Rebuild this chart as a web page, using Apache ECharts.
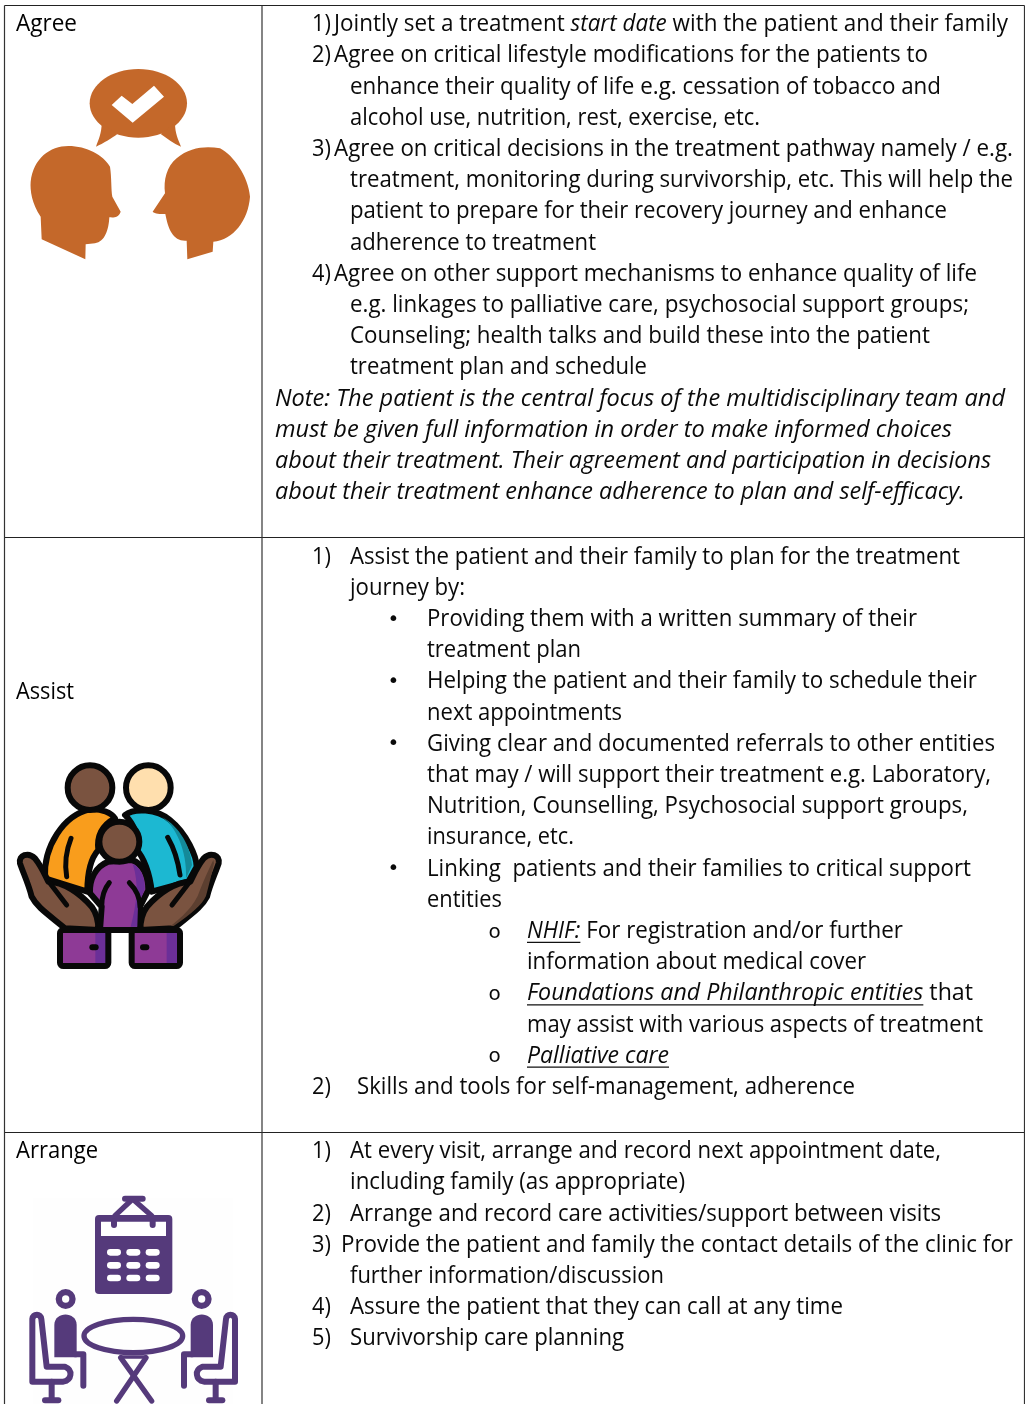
<!DOCTYPE html>
<html><head><meta charset="utf-8">
<script src="https://cdn.jsdelivr.net/npm/echarts@6/dist/echarts.min.js"></script>
<style>html,body{margin:0;padding:0;background:#fff;overflow:hidden}#c{width:1025px;height:1404px}</style>
</head><body><div id="c"></div>
<script>
// ---- table text. *x* = italic, _x_ = italic underlined
const rowLabels = ['Agree','Assist','Arrange'];
const agreeMarkers = ['1)','2)','','','3)','','','','4)','','','','','','',''];
const agreeText = [
 'Jointly set a treatment *start date* with the patient and their family',
 'Agree on critical lifestyle modifications for the patients to',
 'enhance their quality of life e.g. cessation of tobacco and',
 'alcohol use, nutrition, rest, exercise, etc.',
 'Agree on critical decisions in the treatment pathway namely / e.g.',
 'treatment, monitoring during survivorship, etc. This will help the',
 'patient to prepare for their recovery journey and enhance',
 'adherence to treatment',
 'Agree on other support mechanisms to enhance quality of life',
 'e.g. linkages to palliative care, psychosocial support groups;',
 'Counseling; health talks and build these into the patient',
 'treatment plan and schedule',
 '*Note: The patient is the central focus of the multidisciplinary team and*',
 '*must be given full information in order to make informed choices*',
 '*about their treatment. Their agreement and participation in decisions*',
 '*about their treatment enhance adherence to plan and self-efficacy.*'
];
const assistMarkers = ['1)','','•','','•','','•','','','','•','','o','','o','','o','2)'];
const assistText = [
 'Assist the patient and their family to plan for the treatment',
 'journey by:',
 'Providing them with a written summary of their',
 'treatment plan',
 'Helping the patient and their family to schedule their',
 'next appointments',
 'Giving clear and documented referrals to other entities',
 'that may / will support their treatment e.g. Laboratory,',
 'Nutrition, Counselling, Psychosocial support groups,',
 'insurance, etc.',
 'Linking  patients and their families to critical support',
 'entities',
 '_NHIF:_ For registration and/or further',
 'information about medical cover',
 '_Foundations and Philanthropic entities_ that',
 'may assist with various aspects of treatment',
 '_Palliative care_',
 'Skills and tools for self-management, adherence'
];
const arrangeMarkers = ['1)','','2)','3)','','4)','5)'];
const arrangeText = [
 'At every visit, arrange and record next appointment date,',
 'including family (as appropriate)',
 'Arrange and record care activities/support between visits',
 'Provide the patient and family the contact details of the clinic for',
 'further information/discussion',
 'Assure the patient that they can call at any time',
 'Survivorship care planning'
];
// ---- layout (text left edge, text right edge)
const agreeX = [334,334,350,350,334,350,350,350,334,350,350,350,275,275,275,275];
const agreeEnd = [1008,928,941,760,1013,1013,947,596,977,969,930,647,1005,952,991,965];
const assistX = [350,350,427,427,427,427,427,427,427,427,427,427,527,527,527,527,527,357];
const assistEnd = [960,465,917,581,977,622,995,991,968,574,971,502,903,866,973,983,669,855];
const arrangeX = [350,350,350,341,350,350,350];
const arrangeEnd = [941,685,941,1013,664,843,624];
const FAMILY = '"Open Sans"', SIZE = 23.4, INK = '#0a0a0a', LINE_STEP = 31.2;

const ctx = document.createElement('canvas').getContext('2d');
const fontOf = (it) => (it ? 'italic ' : '') + SIZE + 'px ' + FAMILY;
const width = (t, it) => { ctx.font = fontOf(it); return ctx.measureText(t).width; };
function parseRuns(s){
  const out=[]; const re=/([*_])(.*?)\1|([^*_]+)/g; let m;
  while((m=re.exec(s))){ if(m[3]) out.push({t:m[3]}); else out.push({t:m[2],it:true,ul:m[1]==='_'}); }
  return out;
}
const els=[];
function txt(x,y,t,font,sx,fill){
  els.push({type:'text',x,y,scaleX:sx||1,z:5,style:{text:t,font,fill:fill||INK,align:'left',verticalAlign:'middle'}});
}
function hline(x1,y1,x2,y2,w,c){
  els.push({type:'line',z:4,shape:{x1,y1,x2,y2},style:{stroke:c||'#111',lineWidth:w||1}});
}
function block(y0,markers,lines,xs,ends){
  lines.forEach((line,i)=>{
    const y=y0+i*LINE_STEP, runs=parseRuns(line);
    const nat=runs.reduce((a,r)=>a+width(r.t,r.it),0);
    const sx=(ends[i]-xs[i])/nat;
    let x=xs[i];
    runs.forEach(r=>{
      txt(x,y,r.t,fontOf(r.it),sx);
      const w=width(r.t,r.it)*sx;
      if(r.ul) hline(x,y+11,x+w,y+11,1.2);
      x+=w;
    });
    const mk=markers[i];
    if(mk==='•') txt(387.5,y,mk,'20px "DejaVu Sans"');
    else if(mk==='o') txt(488.5,y+1,mk,'20px "DejaVu Sans"');
    else if(mk) txt(312,y,mk,fontOf(false),0.93);
  });
}
block(24.5,agreeMarkers,agreeText,agreeX,agreeEnd);
block(557,assistMarkers,assistText,assistX,assistEnd);
block(1151.5,arrangeMarkers,arrangeText,arrangeX,arrangeEnd);

// row labels
const labelY=[24.5,692.5,1151.5], labelEnd=[77,74,98];
rowLabels.forEach((l,i)=>txt(16,labelY[i],l,fontOf(false),(labelEnd[i]-16)/width(l,false),'#000'));

// table rules
const L=4.5,C=262,R=1024.5,T=5.5;
hline(L,T,R,T,1.2,'#222');hline(L,537.5,R,537.5,1.2,'#222');hline(L,1132.5,R,1132.5,1.2,'#222');
hline(L,T,L,1404,1.2,'#333');hline(C,T,C,1404,1.2,'#333');hline(R,T,R,1404,1.2,'#333');

// ---- icons, drawn in a 3x local space
function P(d,fill,stroke,lw){
  return {type:'path',shape:{pathData:'M0 0M810 840'+d,x:0,y:0,width:810,height:840,layout:'cover'},
    style:{fill:fill||'none',stroke:stroke||'none',lineWidth:lw||0,lineCap:'round',lineJoin:'round'}};
}
const circ=(cx,cy,r,fill,stroke,lw)=>({type:'circle',shape:{cx,cy,r},style:{fill,stroke:stroke||'none',lineWidth:lw||0}});
const icons=[];
const icon=(x,y,children)=>icons.push({type:'group',x,y,scaleX:1/3,scaleY:1/3,children});

const OR='#C4682A';
icon(0,0,[
 {type:'ellipse',shape:{cx:415,cy:310,rx:146,ry:103},style:{fill:OR}},
 P('M305 370C305 400 295 420 288 440C310 430 335 415 352 402Z',OR),
 P('M525 370C525 400 535 420 543 440C520 430 500 415 482 402Z',OR),
 P('M335 315L365 287L397 312L462 257L492 290L398 368Z','#fff'),
 P('M125 718L122 650C95 610 90 570 92 545C100 475 150 438 205 438C260 438 310 465 330 500C335 530 333 570 337 590L362 635C355 655 340 652 328 652C326 690 315 725 285 730L257 733L256 778Z',OR),
 P('M562 778L560 722C520 725 505 690 496 642C480 642 465 642 458 635L495 580C490 540 500 500 530 475C570 440 620 438 660 445C700 465 745 530 750 590C745 660 700 720 640 725L638 755Z',OR)
]);

const B='#080808',BR='#7A5340',BRD='#5C3F30',PU='#8E3A96',PUD='#6B2F98',SW=18;
icon(0,750,[
 P('M135 385C130 290 190 195 270 178C305 175 335 190 345 205C305 225 290 260 295 300C272 325 262 375 262 425Z','#F99D1C',B,SW),
 P('M375 195C400 175 470 175 510 210C560 250 590 320 590 350L565 395L455 425C450 370 430 320 410 300C420 260 400 220 375 195Z','#1CB8D2',B,SW),
 P('M485 200C540 230 572 290 576 345L558 385C562 300 525 225 485 200Z','#148A9A'),
 P('M213 265C195 310 195 350 200 380','none',B,SW-3),
 P('M503 262C525 300 535 340 540 375','none',B,SW-3),
 circ(270,113,67,BR,B,SW),
 circ(445,113,67,'#FFDFAE',B,SW),
 P('M60 340C55 315 85 305 105 325C125 350 135 375 145 395C190 395 240 430 275 470C290 490 295 520 295 540L195 535C140 490 110 470 95 440C85 400 70 370 60 340Z',BR,B,SW),
 P('M150 400L200 465','none',B,SW-3),
 P('M656 340C661 315 631 305 611 325C591 350 581 375 571 395C526 395 476 430 441 470C426 490 421 520 421 540L521 535C576 490 606 470 621 440C631 400 646 370 656 340Z',BR,B,SW),
 P('M640 330C625 360 612 390 600 420C585 470 540 505 512 528L521 528C576 490 606 465 618 438C628 400 636 370 642 340Z',BRD),
 P('M566 400L516 465','none',B,SW-3),
 P('M325 335C285 350 268 390 270 430L305 470L300 540L420 540L420 470L445 420C445 380 430 340 395 330Z',PU,B,SW),
 P('M398 342C428 356 436 395 434 418L414 466L412 530L392 530C410 462 418 400 398 342Z',PUD),
 P('M328 398C310 420 305 445 305 470','none',B,SW-3),
 P('M388 398C410 420 420 445 420 470','none',B,SW-3),
 circ(358,275,60,BR,B,SW),
 {type:'rect',shape:{x:180,y:540,width:145,height:108,r:10},style:{fill:PU}},
 {type:'rect',shape:{x:286,y:547,width:32,height:94},style:{fill:PUD}},
 {type:'rect',shape:{x:395,y:540,width:145,height:108,r:10},style:{fill:PU}},
 {type:'rect',shape:{x:500,y:547,width:33,height:94},style:{fill:PUD}},
 {type:'rect',shape:{x:180,y:540,width:145,height:108,r:10},style:{fill:'none',stroke:B,lineWidth:SW}},
 {type:'rect',shape:{x:395,y:540,width:145,height:108,r:10},style:{fill:'none',stroke:B,lineWidth:SW}},
 {type:'rect',shape:{x:268,y:583,width:28,height:18,r:9},style:{fill:B}},
 {type:'rect',shape:{x:420,y:583,width:28,height:18,r:9},style:{fill:B}}
]);

const V='#553A7B';
const pill=(x,y)=>({type:'rect',shape:{x:x-21,y:y-10,width:42,height:20,r:10},style:{fill:'#fff'}});
const ln=(d,w)=>P(d,'none',V,w||16);
const person=(f)=>[ // f maps x so the right person mirrors the left
 {type:'ring',shape:{cx:f(197),cy:522,r:30,r0:11},style:{fill:V}},
 P(`M${f(163)} 697L${f(163)} 600C${f(163)} 558 ${f(230)} 558 ${f(230)} 600L${f(230)} 697Z`,V),
 ln(`M${f(225)} 688L${f(250)} 688L${f(250)} 782`,18),
 ln(`M${f(97)} 770L${f(97)} 582C${f(100)} 565 ${f(122)} 565 ${f(124)} 582L${f(140)} 725L${f(195)} 725C${f(220)} 735 ${f(215)} 765 ${f(190)} 770Z`,18),
 ln(`M${f(155)} 770L${f(155)} 825`,18),
 ln(`M${f(135)} 826L${f(175)} 826`,18)
];
icon(0,1125,[
 {type:'rect',shape:{x:100,y:220,width:600,height:620},style:{fill:'#fefefe'}},
 ln('M345 272L398 222L455 272'),
 ln('M375 221L428 221',18),
 {type:'rect',shape:{x:285,y:270,width:232,height:237,r:12},style:{fill:V}},
 {type:'rect',shape:{x:303,y:290,width:195,height:43},style:{fill:'#fff'}},
 ln('M342 290L342 300',18),ln('M458 290L458 300',18),
 pill(342,382),pill(400,382),pill(458,382),
 pill(342,421),pill(400,421),pill(458,421),
 pill(342,459),pill(400,459),pill(458,459),
 ...person(x=>x),
 ...person(x=>802-x),
 {type:'ellipse',shape:{cx:400,cy:633,rx:148,ry:50},style:{fill:'none',stroke:V,lineWidth:16}},
 ln('M362 698L455 828'),ln('M438 698L350 828'),ln('M362 696L438 696',10)
]);

const chart=echarts.init(document.getElementById('c'),null,{renderer:'canvas'});
chart.setOption({animation:false,backgroundColor:'#fff',
  graphic:{elements:els},
  series:[{type:'custom',coordinateSystem:'none',silent:true,data:[0],z:1,clip:false,
    renderItem:()=>({type:'group',children:icons})}]
});
</script></body></html>
